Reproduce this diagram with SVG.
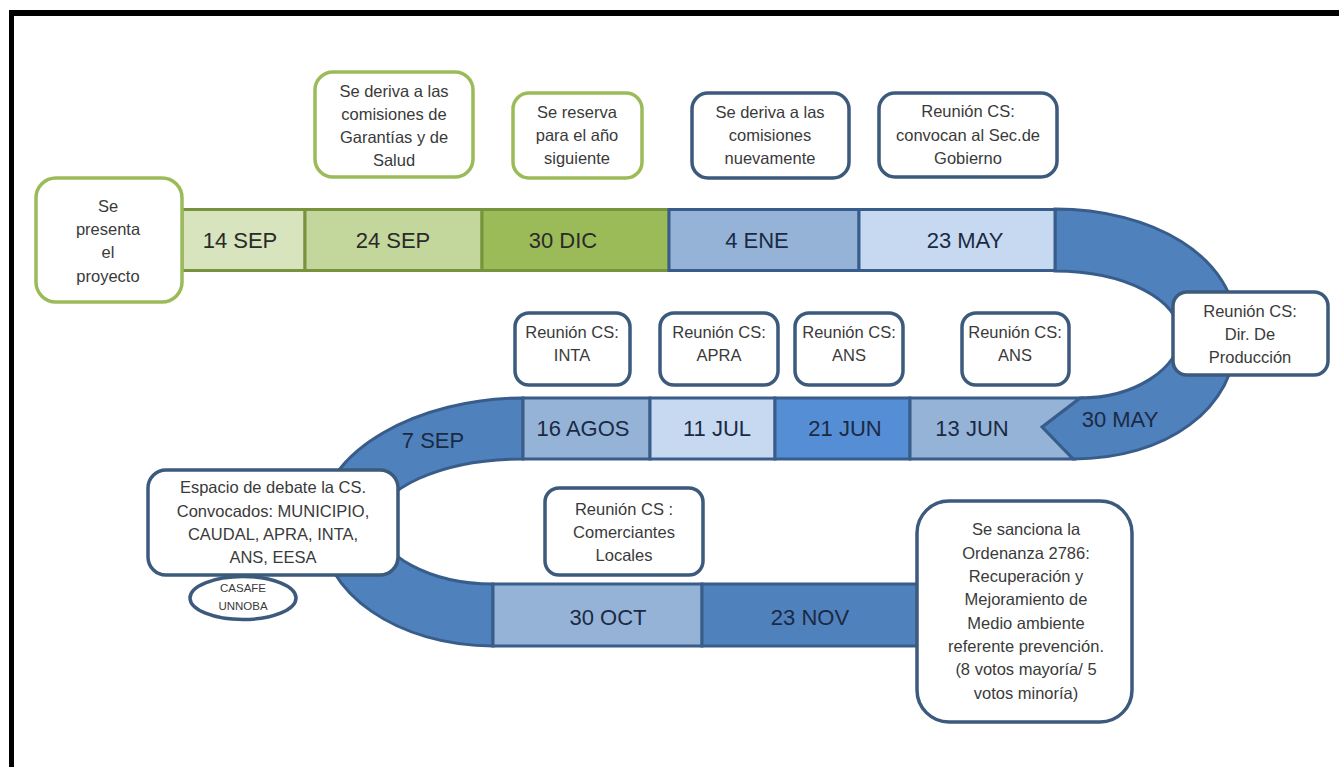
<svg xmlns="http://www.w3.org/2000/svg" width="1339" height="767" viewBox="0 0 1339 767">
<style>
.date{font-family:"Liberation Sans",Arial,sans-serif;font-size:22px;fill:#1b2a44;text-anchor:middle}
.dg{fill:#2a2a2a}
.lbl{font-family:"Liberation Sans",Arial,sans-serif;font-size:16.5px;fill:#3a3a3a;text-anchor:middle}
.sm{font-size:11.5px}
.sg{stroke:#77933c;stroke-width:3}
.sb{stroke:#385d8a;stroke-width:3}
.bg{fill:#ffffff;stroke:#9bbb59;stroke-width:3.5}
.bb{fill:#ffffff;stroke:#3c5a7c;stroke-width:3.5}
</style>
<rect width="1339" height="767" fill="#ffffff"/>
<g id="frame">
<line x1="9" y1="13" x2="1339" y2="13" stroke="#000" stroke-width="6"/>
<line x1="11.5" y1="10" x2="11.5" y2="767" stroke="#000" stroke-width="5"/>
</g>
<g id="connectors">
<path id="curve-right" class="sb" fill="#4f81bd" d="M1055,209 C1150,209 1237,255 1237,333 C1237,410 1165,459 1073,459 L1042,427 L1080,398 C1135,398 1180,368 1180,335 C1180,300 1125,271 1055,271 Z"/>
<path id="curve-left" class="sb" fill="#4f81bd" d="M523,398 C420,398 320,450 320,522 C320,595 400,646 493,646 L493,584 C430,584 377,555 377,522 C377,490 440,459 523,459 Z"/>
<rect class="sg" x="182" y="209.5" width="123" height="61" fill="#d7e4bd"/>
<rect class="sg" x="305" y="209.5" width="177" height="61" fill="#c3d69b"/>
<rect class="sg" x="482" y="209.5" width="187" height="61" fill="#9bbb59"/>
<rect class="sb" x="669" y="209.5" width="190" height="61" fill="#95b3d7"/>
<rect class="sb" x="859" y="209.5" width="196" height="61" fill="#c6d9f1"/>
<rect class="sb" x="523" y="398" width="127" height="61" fill="#95b3d7"/>
<rect class="sb" x="650" y="398" width="125" height="61" fill="#c6d9f1"/>
<rect class="sb" x="775" y="398" width="135" height="61" fill="#558ed5"/>
<path class="sb" fill="#95b3d7" d="M910,398 L1080,398 L1042,427 L1073,459 L910,459 Z"/>
<rect class="sb" x="493" y="584" width="209" height="62" fill="#95b3d7"/>
<rect class="sb" x="702" y="584" width="216" height="62" fill="#4f81bd"/>
<text class="date dg" x="240" y="248">14 SEP</text>
<text class="date dg" x="393" y="248">24 SEP</text>
<text class="date dg" x="563" y="248">30 DIC</text>
<text class="date" x="757" y="248">4 ENE</text>
<text class="date" x="965" y="248">23 MAY</text>
<text class="date" x="1120" y="427">30 MAY</text>
<text class="date" x="972" y="436">13 JUN</text>
<text class="date" x="845" y="436">21 JUN</text>
<text class="date" x="717" y="436">11 JUL</text>
<text class="date" x="583" y="436">16 AGOS</text>
<text class="date" x="433" y="448">7 SEP</text>
<text class="date" x="608" y="625">30 OCT</text>
<text class="date" x="810" y="625">23 NOV</text>
</g>
<g id="n-presenta">
<rect class="bg" x="36" y="178" width="146" height="124" rx="20"/>
<text class="lbl" x="108"><tspan x="108" y="212">Se</tspan><tspan x="108" y="235">presenta</tspan><tspan x="108" y="258">el</tspan><tspan x="108" y="282">proyecto</tspan></text>
</g>
<g id="n-deriva1">
<rect class="bg" x="315" y="72" width="158" height="105" rx="18"/>
<text class="lbl"><tspan x="394" y="97">Se deriva a las</tspan><tspan x="394" y="120">comisiones  de</tspan><tspan x="394" y="143">Garantías y de</tspan><tspan x="394" y="166">Salud</tspan></text>
</g>
<g id="n-reserva">
<rect class="bg" x="513" y="93" width="129" height="85" rx="16"/>
<text class="lbl"><tspan x="577" y="118">Se reserva</tspan><tspan x="577" y="141">para el año</tspan><tspan x="577" y="164">siguiente</tspan></text>
</g>
<g id="n-deriva2">
<rect class="bb" x="692" y="93" width="157" height="85" rx="16"/>
<text class="lbl"><tspan x="770" y="118">Se deriva a las</tspan><tspan x="770" y="141">comisiones</tspan><tspan x="770" y="164">nuevamente</tspan></text>
</g>
<g id="n-gobierno">
<rect class="bb" x="879" y="93" width="178" height="84" rx="16"/>
<text class="lbl"><tspan x="968" y="117">Reunión  CS:</tspan><tspan x="968" y="141">convocan al  Sec.de</tspan><tspan x="968" y="164">Gobierno</tspan></text>
</g>
<g id="n-produccion">
<rect class="bb" x="1173" y="292" width="155" height="83" rx="14"/>
<text class="lbl"><tspan x="1250" y="317">Reunión CS:</tspan><tspan x="1250" y="340">Dir. De</tspan><tspan x="1250" y="363">Producción</tspan></text>
</g>
<g id="n-inta">
<rect class="bb" x="515" y="313" width="115" height="72" rx="14"/>
<text class="lbl"><tspan x="572" y="338">Reunión CS:</tspan><tspan x="572" y="361">INTA</tspan></text>
</g>
<g id="n-apra">
<rect class="bb" x="660" y="313" width="118" height="72" rx="14"/>
<text class="lbl"><tspan x="719" y="338">Reunión CS:</tspan><tspan x="719" y="361">APRA</tspan></text>
</g>
<g id="n-ans1">
<rect class="bb" x="795" y="313" width="108" height="72" rx="14"/>
<text class="lbl"><tspan x="849" y="338">Reunión CS:</tspan><tspan x="849" y="361">ANS</tspan></text>
</g>
<g id="n-ans2">
<rect class="bb" x="962" y="313" width="107" height="72" rx="14"/>
<text class="lbl"><tspan x="1015" y="338">Reunión CS:</tspan><tspan x="1015" y="361">ANS</tspan></text>
</g>
<g id="n-espacio">
<rect class="bb" x="148" y="470" width="250" height="105" rx="18"/>
<text class="lbl"><tspan x="273" y="493">Espacio de debate la CS.</tspan><tspan x="273" y="517">Convocados: MUNICIPIO,</tspan><tspan x="273" y="540">CAUDAL, APRA, INTA,</tspan><tspan x="273" y="563">ANS, EESA</tspan></text>
</g>
<g id="n-casafe">
<ellipse class="bb" cx="243" cy="598" rx="53" ry="21.5"/>
<text class="lbl sm"><tspan x="243" y="592">CASAFE</tspan><tspan x="243" y="610">UNNOBA</tspan></text>
</g>
<g id="n-comerciantes">
<rect class="bb" x="545" y="488" width="158" height="87" rx="14"/>
<text class="lbl"><tspan x="624" y="515">Reunión CS :</tspan><tspan x="624" y="538">Comerciantes</tspan><tspan x="624" y="561">Locales</tspan></text>
</g>
<g id="n-sanciona">
<rect class="bb" x="917" y="501" width="215" height="221" rx="32"/>
<text class="lbl"><tspan x="1026" y="535">Se sanciona la</tspan><tspan x="1026" y="559">Ordenanza 2786:</tspan><tspan x="1026" y="582">Recuperación y</tspan><tspan x="1026" y="605">Mejoramiento de</tspan><tspan x="1026" y="629">Medio ambiente</tspan><tspan x="1026" y="652">referente prevención.</tspan><tspan x="1026" y="675">(8 votos mayoría/ 5</tspan><tspan x="1026" y="699">votos minoría)</tspan></text>
</g>
</svg>
